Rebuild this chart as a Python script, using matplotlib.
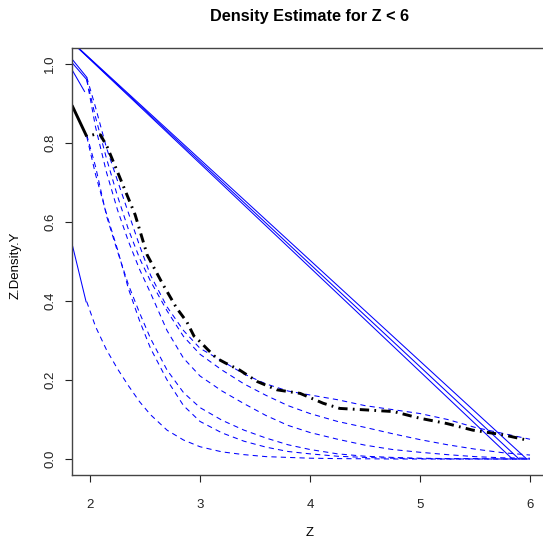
import matplotlib
matplotlib.use("Agg")
from matplotlib import pyplot as plt

plt.rcParams['font.family'] = ['Liberation Sans', 'DejaVu Sans']

# shared Z grid for the dashed density curves
z_grid = [1.97, 2.05, 2.15, 2.25, 2.35, 2.45, 2.55, 2.7, 2.85, 3.0, 3.2, 3.4,
          3.6, 3.8, 4.0, 4.25, 4.5, 4.75, 5.0, 5.25, 5.5, 5.75, 6.0]

dens_1 = [0.966, 0.89, 0.787, 0.704, 0.622, 0.54, 0.465, 0.385, 0.325, 0.28, 0.248, 0.215,
          0.19, 0.172, 0.162, 0.15, 0.135, 0.125, 0.115, 0.1, 0.08, 0.065, 0.05]
dens_2 = [0.96, 0.865, 0.76, 0.665, 0.58, 0.508, 0.45, 0.375, 0.31, 0.265, 0.225, 0.19,
          0.161, 0.135, 0.115, 0.095, 0.08, 0.064, 0.049, 0.036, 0.025, 0.016, 0.01]
dens_3 = [0.96, 0.84, 0.725, 0.63, 0.55, 0.48, 0.42, 0.325, 0.255, 0.21, 0.172, 0.14,
          0.11, 0.085, 0.067, 0.05, 0.035, 0.024, 0.017, 0.011, 0.006, 0.003, 0.002]
dens_4 = [0.82, 0.74, 0.615, 0.525, 0.44, 0.37, 0.305, 0.225, 0.168, 0.13, 0.098, 0.073,
          0.053, 0.036, 0.024, 0.013, 0.007, 0.004, 0.002, 0.001, 0.001, 0.0, 0.0]
dens_5 = [0.816, 0.72, 0.62, 0.53, 0.43, 0.35, 0.28, 0.2, 0.135, 0.095, 0.066, 0.045,
          0.03, 0.019, 0.013, 0.007, 0.004, 0.002, 0.001, 0.0, 0.0, 0.0, 0.0]
dens_6 = [0.398, 0.335, 0.276, 0.228, 0.185, 0.145, 0.112, 0.073, 0.048, 0.031, 0.018, 0.011,
          0.006, 0.004, 0.002, 0.001, 0.0005, 0.0, 0.0, 0.0, 0.0, 0.0, 0.0]

# short solid pieces at the left edge
lead_z = [[1.836, 1.97], [1.836, 1.97], [1.836, 1.95], [1.836, 1.964]]
lead_y = [[1.012, 0.966], [1.003, 0.96], [0.985, 0.93], [0.545, 0.398]]

# long straight lines back to the upper left
diag_z0 = [5.84, 5.90, 5.97]
diag_top = (1.70, 1.09)

# thick reference curve
ref_z = [1.97, 2.05, 2.095, 2.157, 2.28, 2.41, 2.52, 2.66, 2.787, 2.88, 2.945, 3.0,
         3.07, 3.15, 3.23, 3.36, 3.52, 3.7, 3.91, 4.12, 4.27, 4.52, 4.76, 5.0,
         5.24, 5.48, 5.76, 5.97]
ref_y = [0.816, 0.822, 0.82, 0.789, 0.706, 0.618, 0.516, 0.443, 0.382, 0.347, 0.311, 0.297,
         0.277, 0.255, 0.243, 0.225, 0.196, 0.175, 0.166, 0.141, 0.128, 0.124, 0.12, 0.103,
         0.09, 0.073, 0.061, 0.048]
ref_lead_z = [1.836, 1.97]
ref_lead_y = [0.895, 0.816]

fig = plt.figure(figsize=(5.43, 5.42), dpi=100)
ax = fig.add_axes([72 / 543, 1 - 475 / 542, 475.6 / 543, 427.2 / 542])

blue = '#0000FF'
for d in [dens_1, dens_2, dens_3, dens_4, dens_5, dens_6]:
    ax.plot(z_grid, d, color=blue, lw=0.75, ls=(0, (5, 4)))
for lz, ly in zip(lead_z, lead_y):
    ax.plot(lz, ly, color=blue, lw=0.75)
for z0 in diag_z0:
    ax.plot([z0, diag_top[0]], [0, diag_top[1]], color=blue, lw=0.75)

ax.plot(ref_lead_z, ref_lead_y, color='black', lw=2.1, solid_capstyle='butt')
ax.plot(ref_z, ref_y, color='black', lw=2.1, ls=(3, (3.2, 1.8, 0.6, 1.8)))

ax.set_xlim(1.836, 6.16)
ax.set_ylim(-0.0405, 1.0405)
ax.set_xticks([2, 3, 4, 5, 6])
ax.set_yticks([0, 0.2, 0.4, 0.6, 0.8, 1.0])
ax.set_yticklabels(['0.0', '0.2', '0.4', '0.6', '0.8', '1.0'], rotation=90, va='center')
ax.tick_params(direction='out', length=5, width=0.8, labelsize=9.5, colors='#222222')
ax.tick_params(axis='x', pad=12)
ax.tick_params(axis='y', pad=6.5)
for s in ax.spines.values():
    s.set_color('#444444')
    s.set_linewidth(1.0)

fig.text(310 / 543, 1 - 17 / 542, 'Density Estimate for Z < 6', ha='center', va='center',
         fontsize=11.7, fontweight='bold')
fig.text(310 / 543, 1 - 533 / 542, 'Z', ha='center', va='center', fontsize=9.5)
fig.text(15.6 / 543, 1 - 265 / 542, 'Z.Density.Y', ha='center', va='center', fontsize=9.5,
         rotation=90)

fig.savefig('out.png', dpi=100)
